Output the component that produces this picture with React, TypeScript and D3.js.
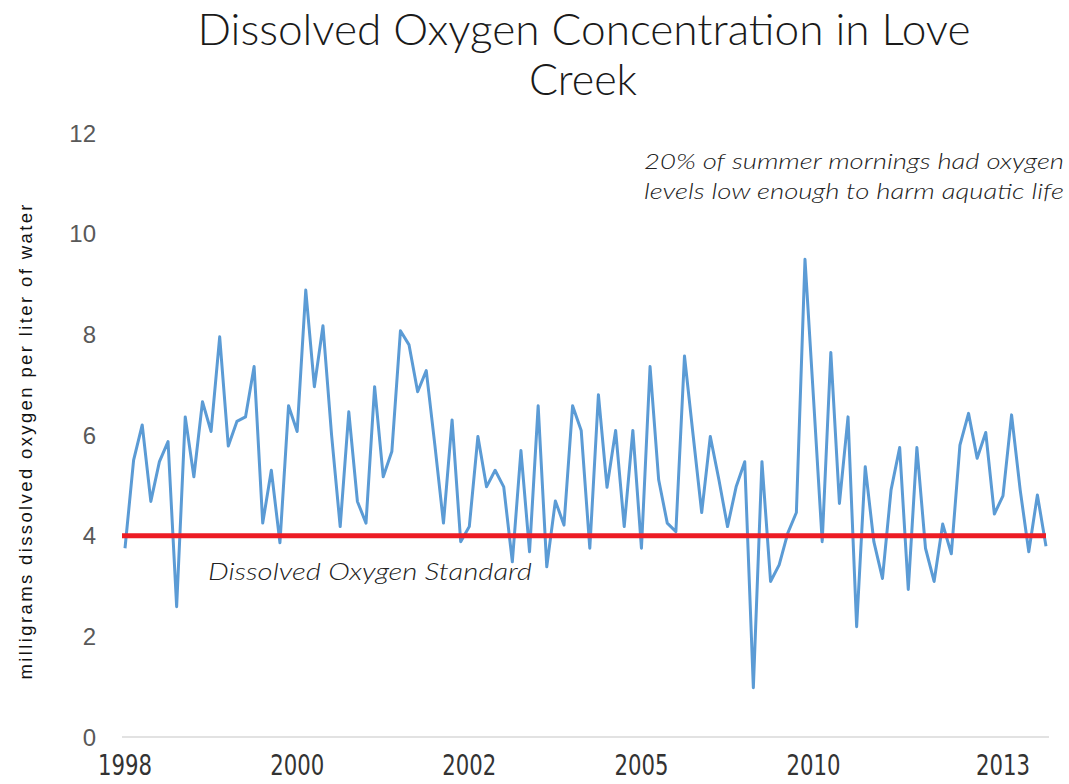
import React from "react";
import { scaleLinear, scalePoint, line, range } from "d3";

// dissolved oxygen readings, mg/L, in sample order
const oxygen = [
  3.75, 5.5, 6.2, 4.68, 5.47, 5.87, 2.59, 6.36, 5.17, 6.66,
  6.07, 7.95, 5.78, 6.27, 6.36, 7.36, 4.25, 5.3, 3.86, 6.58,
  6.07, 8.88, 6.96, 8.17, 6.0, 4.18, 6.46, 4.68, 4.25, 6.96,
  5.17, 5.67, 8.07, 7.79, 6.86, 7.28, 5.8, 4.25, 6.3, 3.88,
  4.18, 5.97, 4.97, 5.3, 4.97, 3.48, 5.69, 3.68, 6.58, 3.38,
  4.69, 4.21, 6.58, 6.09, 3.75, 6.8, 4.96, 6.09, 4.18, 6.09,
  3.75, 7.36, 5.11, 4.25, 4.08, 7.57, 6.0, 4.46, 5.97, 5.11,
  4.18, 4.97, 5.47, 0.98, 5.47, 3.09, 3.42, 4.05, 4.46, 9.49,
  6.7, 3.88, 7.64, 4.64, 6.36, 2.19, 5.37, 3.88, 3.15, 4.91,
  5.75, 2.93, 5.75, 3.75, 3.09, 4.23, 3.64, 5.8, 6.43, 5.54,
  6.05, 4.43, 4.79, 6.4, 4.91, 3.68, 4.81, 3.79
];

// year labels and the sample index each one sits under
const yearLabels = ["1998", "2000", "2002", "2005", "2010", "2013"];
const yearIndex = [0, 20, 40, 60, 80, 102];
const yTicks = [0, 2, 4, 6, 8, 10, 12];
const standard = 4;

const W = 1069;
const H = 784;

export default function App() {
  const x = scalePoint<number>()
    .domain(range(oxygen.length))
    .range([125, 1046]);
  const y = scaleLinear().domain([0, 12]).range([737, 133]);

  const path = line<number>()
    .x((_, i) => x(i) as number)
    .y((d) => y(d))(oxygen);

  return (
    <svg
      width={W}
      height={H}
      style={{ position: "absolute", left: 0, top: 0, background: "#fff" }}
      fontFamily="'Liberation Sans', Arial, sans-serif"
    >
      <g fontFamily="Lato, 'Open Sans', sans-serif" fontWeight={300} fontSize={43} fill="#1a1a1a" textAnchor="middle">
        <text x={584} y={45} textLength={773} lengthAdjust="spacingAndGlyphs">Dissolved Oxygen Concentration in Love</text>
        <text x={583} y={95}>Creek</text>
      </g>

      {/* y axis labels */}
      <g fontSize={24} fill="#595959" textAnchor="end">
        {yTicks.map((t) => (
          <text key={t} x={96} y={y(t)} dy="0.36em">{t}</text>
        ))}
      </g>
      <text
        transform={`translate(32, 442) rotate(-90)`}
        textAnchor="middle"
        fontSize={18.5}
        fill="#111"
        textLength={475}
        lengthAdjust="spacing"
      >
        milligrams dissolved oxygen per liter of water
      </text>

      {/* baseline axis */}
      <line x1={122} x2={1049} y1={y(0)} y2={y(0)} stroke="#d9d9d9" strokeWidth={1.5} />
      <g fontFamily="'Liberation Sans Narrow', 'DejaVu Sans Condensed', sans-serif" fontSize={29} fill="#333" textAnchor="middle">
        {yearLabels.map((lab, i) => (
          <text key={lab} x={x(yearIndex[i])} y={775} textLength={54} lengthAdjust="spacingAndGlyphs">{lab}</text>
        ))}
      </g>

      <path d={path ?? ""} fill="none" stroke="#5b9bd5" strokeWidth={3} strokeLinejoin="round" />

      <line x1={122} x2={1046} y1={y(standard)} y2={y(standard)} stroke="#ed1c24" strokeWidth={5} />

      <g fontFamily="Lato, 'Open Sans', sans-serif" fontStyle="italic" fontWeight={300} fill="#222">
        <text x={208} y={580} fontSize={23} textLength={324} lengthAdjust="spacingAndGlyphs">Dissolved Oxygen Standard</text>
        <text x={1064} y={169} fontSize={22} textAnchor="end" textLength={420} lengthAdjust="spacingAndGlyphs">20% of summer mornings had oxygen</text>
        <text x={1064} y={199} fontSize={22} textAnchor="end" textLength={420} lengthAdjust="spacingAndGlyphs">levels low enough to harm aquatic life</text>
      </g>
    </svg>
  );
}
